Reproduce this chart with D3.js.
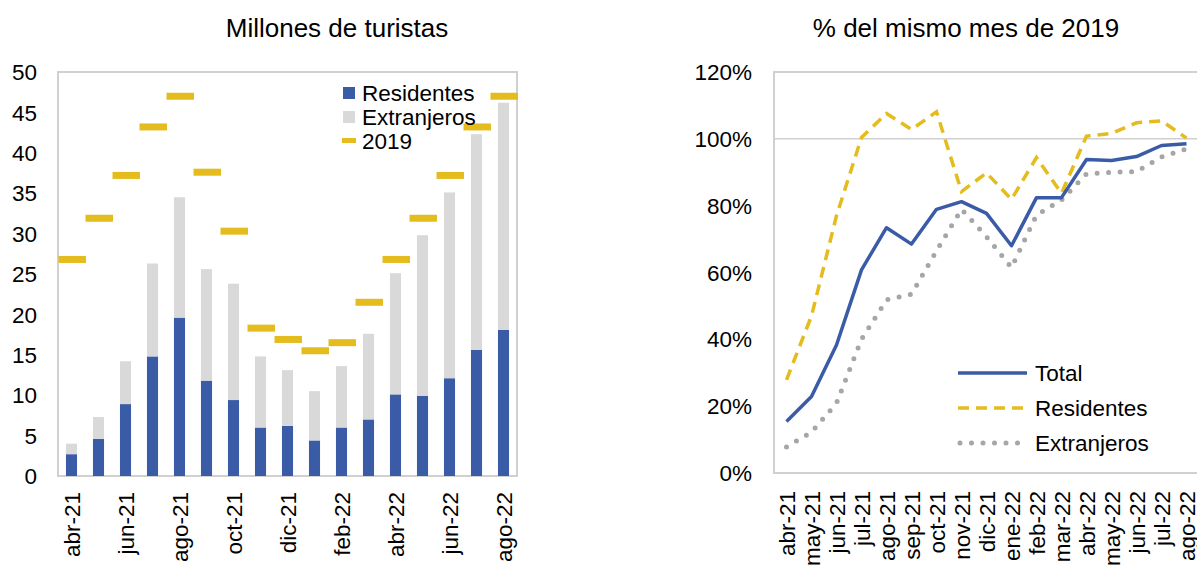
<!DOCTYPE html>
<html>
<head>
<meta charset="utf-8">
<script src="https://cdn.jsdelivr.net/npm/d3@7"></script>
<style>
  body { margin: 0; background: #fff; }
  svg { display: block; font-family: "Liberation Sans", Arial, sans-serif; }
</style>
</head>
<body>
<svg id="chart" width="1197" height="565"></svg>
<script>
// Data ----------------------------------------
const months = ["abr-21","may-21","jun-21","jul-21","ago-21","sep-21","oct-21","nov-21","dic-21",
                "ene-22","feb-22","mar-22","abr-22","may-22","jun-22","jul-22","ago-22"];

// millones de turistas
const residentes  = [2.7, 4.6, 8.9, 14.8, 19.6, 11.8, 9.4, 6.0, 6.2, 4.4, 6.0, 7.0, 10.1, 9.9, 12.1, 15.6, 18.1];
const totalMes    = [4.0, 7.3, 14.2, 26.3, 34.5, 25.6, 23.8, 14.8, 13.1, 10.5, 13.6, 17.6, 25.1, 29.8, 35.1, 42.3, 46.2];
const extranjeros = totalMes.map((t, i) => +(t - residentes[i]).toFixed(1));
const total2019   = [26.8, 31.9, 37.2, 43.2, 47.0, 37.6, 30.3, 18.3, 16.9, 15.5, 16.5, 21.5, 26.8, 31.9, 37.2, 43.2, 47.0];

// % del mismo mes de 2019
const pctTotal       = [15.4, 22.9, 38.3, 60.8, 73.4, 68.5, 78.9, 81.2, 77.7, 68.0, 82.4, 82.4, 93.8, 93.5, 94.7, 98.0, 98.5];
const pctResidentes  = [27.9, 47.0, 77.0, 100.4, 107.6, 102.8, 108.1, 84.2, 89.8, 81.9, 94.4, 83.7, 100.8, 101.6, 104.8, 105.4, 100.2];
const pctExtranjeros = [7.8, 12.2, 20.9, 40.0, 51.8, 53.5, 66.5, 78.9, 70.7, 61.5, 77.2, 81.7, 89.5, 90.0, 90.2, 94.6, 97.0];

const leftTicks = d3.range(0, 51, 5);
const rightTicks = d3.range(0, 121, 20);

const blue = "#3A5BA5", lightGray = "#D9D9D9", yellow = "#E4BC1E", dotGray = "#A6A6A6", frame = "#D0D0D0";
const fontSize = 22.5;

const svg = d3.select("#chart");

// Left chart: bars ----------------------------------------
const L = { left: 58, right: 517, top: 72, bottom: 476 };
const xL = d3.scaleBand().domain(months).range([L.left, L.right]);
const yL = d3.scaleLinear().domain([0, 50]).range([L.bottom, L.top]);

svg.append("text")
  .attr("x", 337).attr("y", 37)
  .attr("text-anchor", "middle")
  .attr("font-size", 26)
  .text("Millones de turistas");

svg.append("rect")
  .attr("x", L.left).attr("y", L.top)
  .attr("width", L.right - L.left).attr("height", L.bottom - L.top)
  .attr("fill", "none").attr("stroke", frame).attr("stroke-width", 2);

const barW = xL.bandwidth() * 0.41;

svg.append("g").selectAll("rect")
  .data(months)
  .enter().append("rect")
  .attr("x", d => xL(d) + (xL.bandwidth() - barW) / 2)
  .attr("y", (d, i) => yL(residentes[i]))
  .attr("width", barW)
  .attr("height", (d, i) => yL(0) - yL(residentes[i]))
  .attr("fill", blue);

svg.append("g").selectAll("rect")
  .data(months)
  .enter().append("rect")
  .attr("x", d => xL(d) + (xL.bandwidth() - barW) / 2)
  .attr("y", (d, i) => yL(residentes[i] + extranjeros[i]))
  .attr("width", barW)
  .attr("height", (d, i) => yL(residentes[i]) - yL(residentes[i] + extranjeros[i]))
  .attr("fill", lightGray);

// 2019 markers
svg.append("g").selectAll("line")
  .data(months)
  .enter().append("line")
  .attr("x1", d => xL(d) + 0.5)
  .attr("x2", d => xL(d) + xL.bandwidth() + 1)
  .attr("y1", (d, i) => yL(total2019[i]))
  .attr("y2", (d, i) => yL(total2019[i]))
  .attr("stroke", yellow)
  .attr("stroke-width", 7);

// y axis labels
svg.append("g").selectAll("text")
  .data(leftTicks)
  .enter().append("text")
  .attr("x", 37)
  .attr("y", d => yL(d))
  .attr("dy", "0.36em")
  .attr("text-anchor", "end")
  .attr("font-size", fontSize)
  .text(d => d);

// x axis labels, every other month
svg.append("g").selectAll("text")
  .data(months.filter((d, i) => i % 2 === 0))
  .enter().append("text")
  .attr("transform", d => `translate(${xL(d) + xL.bandwidth() / 2},492) rotate(-90)`)
  .attr("dy", "0.36em")
  .attr("text-anchor", "end")
  .attr("font-size", fontSize)
  .text(d => d);

// legend
const legL = svg.append("g");
legL.append("rect").attr("x", 343).attr("y", 87).attr("width", 12).attr("height", 12).attr("fill", blue);
legL.append("rect").attr("x", 343).attr("y", 111).attr("width", 12).attr("height", 12).attr("fill", lightGray);
legL.append("line").attr("x1", 342).attr("x2", 356).attr("y1", 140.5).attr("y2", 140.5)
  .attr("stroke", yellow).attr("stroke-width", 5);
[["Residentes", 101], ["Extranjeros", 125], ["2019", 149]].forEach(([t, y]) => {
  legL.append("text").attr("x", 362).attr("y", y).attr("font-size", fontSize).text(t);
});

// Right chart: lines ----------------------------------------
const R = { left: 774, right: 1199, top: 72, bottom: 473 };
const xR = d3.scaleBand().domain(months).range([R.left, R.right]);
const yR = d3.scaleLinear().domain([0, 120]).range([R.bottom, R.top]);

svg.append("text")
  .attr("x", 966).attr("y", 37)
  .attr("text-anchor", "middle")
  .attr("font-size", 26)
  .text("% del mismo mes de 2019");

svg.append("line")
  .attr("x1", R.left).attr("x2", R.right)
  .attr("y1", yR(100)).attr("y2", yR(100))
  .attr("stroke", frame).attr("stroke-width", 1.5);

svg.append("rect")
  .attr("x", R.left).attr("y", R.top)
  .attr("width", R.right - R.left).attr("height", R.bottom - R.top)
  .attr("fill", "none").attr("stroke", frame).attr("stroke-width", 2);

const lineR = d3.line()
  .x((d, i) => xR(months[i]) + xR.bandwidth() / 2)
  .y(d => yR(d));

svg.append("path").datum(pctExtranjeros)
  .attr("d", lineR).attr("fill", "none")
  .attr("stroke", dotGray).attr("stroke-width", 5)
  .attr("stroke-linecap", "round").attr("stroke-dasharray", "0 11.5");

svg.append("path").datum(pctResidentes)
  .attr("d", lineR).attr("fill", "none")
  .attr("stroke", yellow).attr("stroke-width", 3.5)
  .attr("stroke-dasharray", "11 7");

svg.append("path").datum(pctTotal)
  .attr("d", lineR).attr("fill", "none")
  .attr("stroke", blue).attr("stroke-width", 3.5)
  .attr("stroke-linejoin", "round");

svg.append("g").selectAll("text")
  .data(rightTicks)
  .enter().append("text")
  .attr("x", 752)
  .attr("y", d => yR(d))
  .attr("dy", "0.36em")
  .attr("text-anchor", "end")
  .attr("font-size", fontSize)
  .text(d => d + "%");

svg.append("g").selectAll("text")
  .data(months)
  .enter().append("text")
  .attr("transform", d => `translate(${xR(d) + xR.bandwidth() / 2},491) rotate(-90)`)
  .attr("dy", "0.36em")
  .attr("text-anchor", "end")
  .attr("font-size", fontSize)
  .text(d => d);

// legend
const legR = svg.append("g");
const legItems = [
  { name: "Total", color: blue, width: 3.5, dash: null, cap: "butt", y: 373 },
  { name: "Residentes", color: yellow, width: 3.5, dash: "11 7", cap: "butt", y: 408 },
  { name: "Extranjeros", color: dotGray, width: 5, dash: "0 11.5", cap: "round", y: 443 }
];
legItems.forEach(it => {
  legR.append("line")
    .attr("x1", it.cap === "round" ? 960 : 958).attr("x2", 1027)
    .attr("y1", it.y).attr("y2", it.y)
    .attr("stroke", it.color).attr("stroke-width", it.width)
    .attr("stroke-linecap", it.cap)
    .attr("stroke-dasharray", it.dash);
  legR.append("text")
    .attr("x", 1035).attr("y", it.y)
    .attr("dy", "0.36em")
    .attr("font-size", fontSize)
    .text(it.name);
});
</script>
</body>
</html>
